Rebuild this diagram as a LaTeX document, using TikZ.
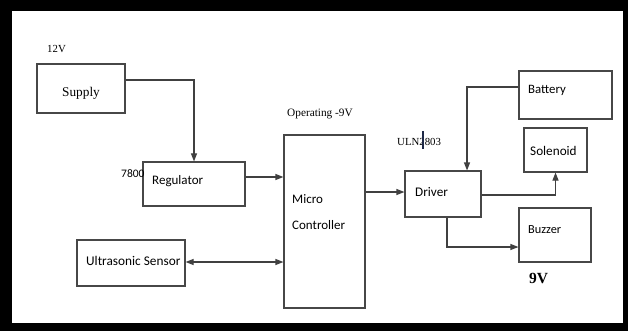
\documentclass[tikz,border=0pt]{standalone}
\usepackage{fontspec}
\setmainfont{Liberation Serif}
\newfontfamily\calfont{Carlito}
\usetikzlibrary{arrows.meta,calc}
\begin{document}
\begin{tikzpicture}[x=1pt,y=-1pt,
  box/.style={draw=black!72, line width=1.1pt, inner sep=0pt},
  conn/.style={draw=black!75, line width=1.1pt},
  arr/.style={conn, -{Triangle[length=8pt,width=6pt]}},
  darr/.style={conn, {Triangle[length=8pt,width=6pt]}-{Triangle[length=8pt,width=6pt]}},
  sans/.style={inner sep=0pt, anchor=base west, font=\calfont\fontsize{#1}{#1}\selectfont},
  serif/.style={inner sep=0pt, anchor=base west, font=\fontsize{#1}{#1}\selectfont}]
\useasboundingbox (0,0) rectangle (628,331);
\fill[black] (0,0) rectangle (628,331);
\fill[white] (12,11) rectangle (623,323);
% boxes
\node[box, minimum width=88pt, minimum height=49pt] (sup) at (81,88.5) {};
\node[box, minimum width=102pt, minimum height=44pt] (reg) at (194,184) {};
\node[box, minimum width=81pt, minimum height=173pt] (mc) at (324.5,221.5) {};
\node[box, minimum width=108pt, minimum height=46pt] (us) at (131,263) {};
\node[box, minimum width=76pt, minimum height=46pt] (drv) at (443,194) {};
\node[box, minimum width=93pt, minimum height=48pt] (bat) at (565.5,95) {};
\node[box, minimum width=63pt, minimum height=44pt] (sol) at (555.5,150) {};
\node[box, minimum width=72pt, minimum height=54pt] (buz) at (555,235) {};
% texts
\node[serif=10.8] (t12) at (47,53) {12V};
\node[serif=13.3] (tsup) at (62,97) {Supply};
\node[sans=11.5] (t78) at (121,177) {7800};
\node[sans=13] (treg) at (152,184) {Regulator};
\node[serif=11.3] (top) at (287,117) {Operating -9V};
\node[sans=13] (tmi) at (292,203) {Micro};
\node[sans=13] (tco) at (292,229) {Controller};
\node[sans=13.3] (tus) at (86,265) {Ultrasonic Sensor};
\node[sans=13.2] (tdr) at (415,196) {Driver};
\node[serif=10.8] (tul) at (397,146) {ULN2803};
\node[sans=12.8] (tba) at (528,94) {Battery};
\node[sans=13.2] (tso) at (530,155) {Solenoid};
\node[sans=12.3] (tbu) at (528,233) {Buzzer};
\node[serif=15.5, font=\bfseries\fontsize{15.5}{15.5}\selectfont] (t9v) at (529,283) {9V};
% cursor mark
\draw[line width=1.6pt, draw={rgb,255:red,30;green,40;blue,70}] (423,131) -- (423,149);
% connectors
\draw[arr] ([yshift=8.5pt]sup.east) -| (reg.north);
\draw[arr] ([yshift=7pt]reg.east) -- ([yshift=7pt]reg.east -| mc.west);
\draw[darr] ([yshift=1pt]us.east) -- ([yshift=1pt]us.east -| mc.west);
\draw[arr] ([yshift=2pt]drv.west -| mc.east) -- ([yshift=2pt]drv.west);
\draw[arr] ([yshift=8pt]bat.west) -| ([xshift=24pt]drv.north);
\draw[arr] ([yshift=-1pt]drv.east) -| (sol.south);
\draw[arr] ([xshift=4pt]drv.south) |- ([yshift=-12pt]buz.west);
\end{tikzpicture}
\end{document}
